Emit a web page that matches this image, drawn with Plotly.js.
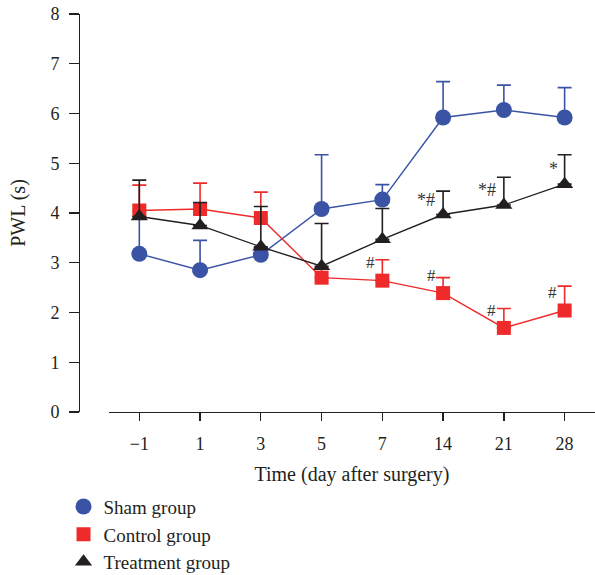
<!DOCTYPE html>
<html><head><meta charset="utf-8">
<script src="https://cdn.plot.ly/plotly-3.0.1.min.js"></script>
<style>html,body{margin:0;padding:0;background:#fff}#c{width:595px;height:575px}</style>
</head><body><div id="c"></div>
<script>
const days = ['\u22121','1','3','5','7','14','21','28'];
const shamMean = [3.18, 2.85, 3.16, 4.08, 4.27, 5.92, 6.07, 5.92];
const shamErr  = [0.70, 0.60, 0.15, 1.09, 0.30, 0.72, 0.50, 0.60];
const ctrlMean = [4.05, 4.08, 3.90, 2.70, 2.64, 2.39, 1.69, 2.04];
const ctrlErr  = [0.51, 0.52, 0.52, 0.20, 0.42, 0.31, 0.39, 0.49];
const trtMean  = [3.93, 3.75, 3.32, 2.93, 3.47, 3.97, 4.16, 4.58];
const trtErr   = [0.73, 0.46, 0.81, 0.86, 0.62, 0.47, 0.56, 0.59];
const ctrlMarks = ['', '', '', '', '#', '#', '#', '#'];
const trtMarks  = ['', '', '', '', '', '*#', '*#', '*'];
const names = ['Sham group','Control group','Treatment group'];

const BLUE='#3a53a4', RED='#ee2a2a', BLACK='#231f20';
const FONT='Liberation Serif, Times New Roman, serif';

function series(name, y, err, color, symbol, size){
  return [
    {x:days, y:y, type:'scatter', mode:'lines', line:{color:color,width:1.4}, showlegend:false, hoverinfo:'skip', cliponaxis:false},
    {x:days, y:y, type:'scatter', mode:'markers', name:name,
     marker:{color:color, symbol:symbol, size:size, line:{width:0}},
     error_y:{type:'data', symmetric:false, array:err, arrayminus:err.map(()=>0), color:color, thickness:1.6, width:7},
     cliponaxis:false}
  ];
}
const traces = [
  ...series(names[0], shamMean, shamErr, BLUE, 'circle', 16),
  ...series(names[1], ctrlMean, ctrlErr, RED, 'square', 14),
  ...series(names[2], trtMean, trtErr, BLACK, 'triangle-up', 15)
];
const ordered = [traces[0],traces[2],traces[4],traces[1],traces[3],traces[5]];

const ann = [];
days.forEach((d,i)=>{
  if (ctrlMarks[i]) ann.push({x:i, xref:'x', y:ctrlMean[i]+0.36, text:ctrlMarks[i], showarrow:false, xshift:-12, font:{family:FONT,size:17,color:'#333'}});
  if (trtMarks[i]) ann.push({x:i, xref:'x', y:trtMean[i]+0.3, text:trtMarks[i], showarrow:false, xshift:(trtMarks[i].length>1?-17:-11), font:{family:FONT,size:18,color:'#333'}});
});

const layout = {
  width:595, height:575,
  margin:{l:79, r:0, t:14, b:163, autoexpand:false},
  paper_bgcolor:'#fff', plot_bgcolor:'#fff',
  font:{family:FONT, size:18, color:'#231f20'},
  showlegend:true,
  legend:{x:-0.03, y:-0.19, xanchor:'left', yanchor:'top', orientation:'v', font:{family:FONT,size:19}, itemwidth:30, bgcolor:'rgba(0,0,0,0)'},
  xaxis:{type:'category', domain:[0.058,1], range:[-0.5,7.5], anchor:'y',
    showline:true, linecolor:'#231f20', linewidth:1.3, ticks:'outside', ticklen:8, tickwidth:1.3, tickcolor:'#231f20',
    showgrid:false, zeroline:false, tickfont:{family:FONT,size:18}, ticklabelstandoff:7,
    title:{text:'Time (day after surgery)', font:{family:FONT,size:20}, standoff:14}},
  yaxis:{range:[0,8], anchor:'free', position:0, showline:true, linecolor:'#231f20', linewidth:1.3,
    ticks:'outside', ticklen:10, tickwidth:1.3, tickcolor:'#231f20', dtick:1,
    showgrid:false, zeroline:false, tickfont:{family:FONT,size:18}, ticklabelstandoff:6,
    title:{text:'PWL (s)', font:{family:FONT,size:20}, standoff:18}},
  annotations:ann
};
Plotly.newPlot('c', ordered, layout, {staticPlot:true});
</script></body></html>
